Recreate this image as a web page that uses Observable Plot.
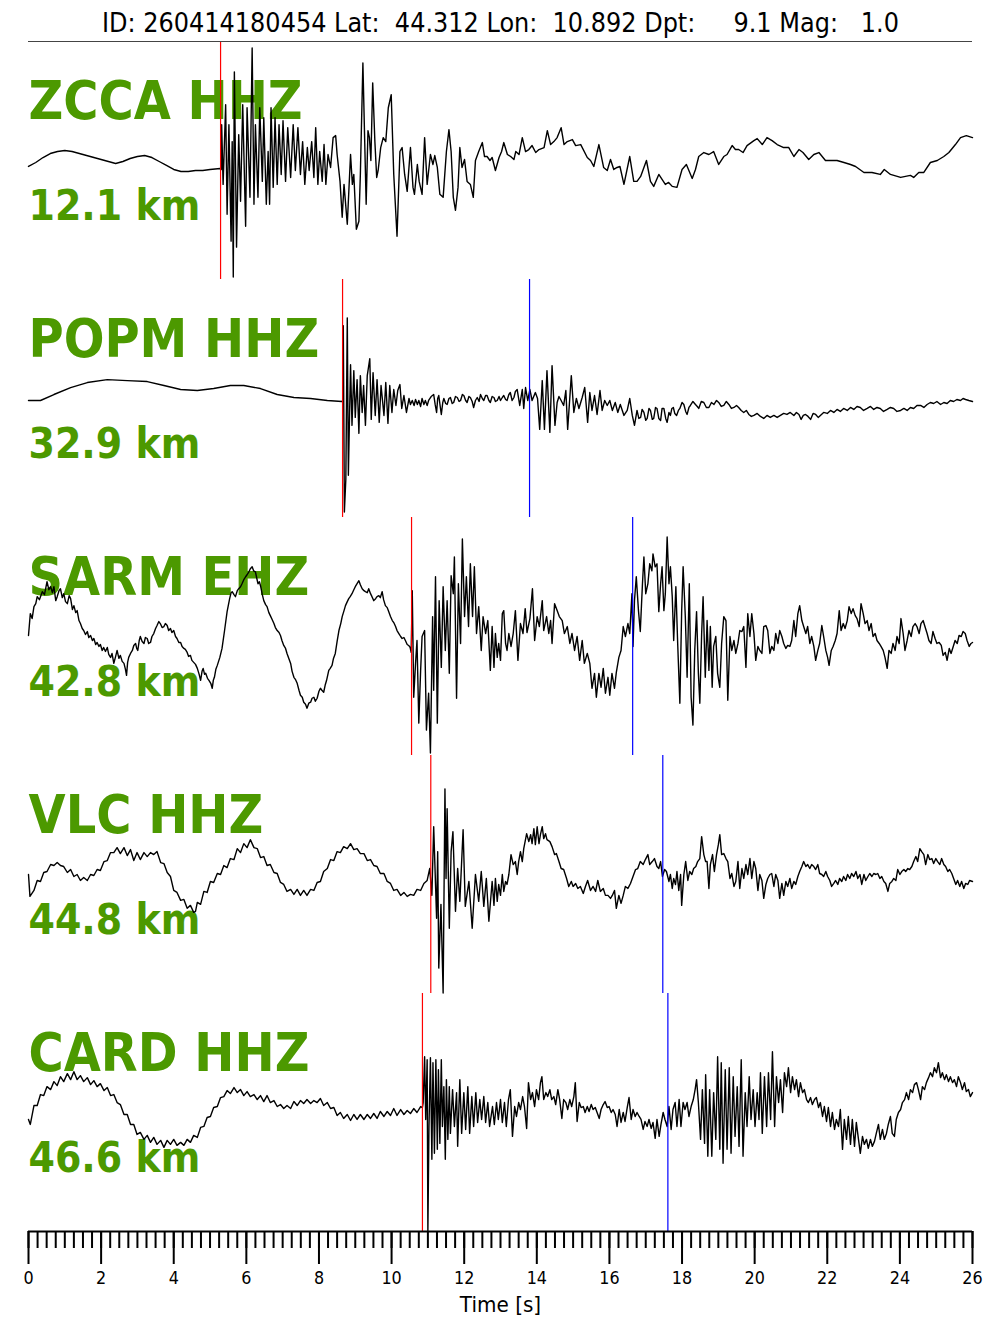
<!DOCTYPE html>
<html><head><meta charset="utf-8">
<script src="https://cdn.jsdelivr.net/npm/d3@7"></script>
<script src="https://cdn.jsdelivr.net/npm/@observablehq/plot@0.6"></script>
<style>body{margin:0;background:#fff;} #chart svg{display:block;}</style>
</head><body><div id="chart"></div>
<script>
const title = "ID: 260414180454 Lat:  44.312 Lon:  10.892 Dpt:     9.1 Mag:   1.0";
const stations = ["ZCCA", "POPM", "SARM", "VLC", "CARD"];
const channels = ["HHZ", "HHZ", "EHZ", "HHZ", "HHZ"];
const distances = [12.1, 32.9, 42.8, 44.8, 46.6];
const pPicks = [5.29, 8.65, 10.55, 11.08, 10.85];
const sPicks = [null, 13.80, 16.64, 17.47, 17.61];
const xTicks = [0, 2, 4, 6, 8, 10, 12, 14, 16, 18, 20, 22, 24, 26];
const xLabel = "Time [s]";
const ampLimit = 119.5; // normalised amplitude limit of each panel

// traces: [time (s), normalised amplitude]
const zcca = [[0,-6],[0.2,-2],[0.4,3],[0.6,7],[0.8,9],[1.0,10],[1.2,9],[1.4,7],[1.6,5],[1.8,3],[2.0,1],[2.2,-1],[2.4,-3],[2.6,-1],[2.8,2],[3.0,4],[3.2,5],[3.4,3],[3.6,-1],[3.8,-5],[4.0,-9],[4.2,-11],[4.4,-11],[4.6,-10],[4.8,-10],[5.0,-9],[5.28,-8],[5.31,-9],
[5.32,36],[5.36,-24],[5.43,56],[5.47,-54],[5.52,36],[5.58,-81],[5.61,19],[5.64,-117],[5.67,89],[5.73,-87],[5.79,26],[5.84,-41],[5.90,56],[5.98,-66],[6.02,53],[6.10,-37],[6.16,113],[6.21,-44],[6.25,36],[6.32,-37],[6.37,53],[6.44,-21],[6.48,43],[6.55,-44],[6.60,9],[6.64,-44],[6.68,53],[6.74,-27],[6.79,43],[6.85,-24],[6.90,36],[6.96,-14],[7.01,40],[7.08,-21],[7.14,33],[7.22,-17],[7.29,36],[7.35,-10],[7.42,33],[7.49,-14],[7.55,19],[7.61,-24],[7.68,13],[7.73,-10],[7.80,19],[7.86,-17],[7.91,33],[7.97,-24],[8.02,9],[8.09,-21],[8.14,16],[8.19,-24],[8.25,6],[8.32,-7],[8.39,23],[8.46,25],[8.50,6],[8.58,-21],[8.64,-57],[8.69,-24],[8.78,-64],[8.87,6],[8.92,-24],[8.96,-14],[9.03,-69],[9.10,-61],[9.14,-14],[9.21,98],[9.26,19],[9.30,-44],[9.35,30],[9.39,23],[9.43,0],[9.48,78],[9.54,19],[9.59,-17],[9.63,-10],[9.70,13],[9.77,23],[9.84,19],[9.91,53],[9.99,66],[10.06,-14],[10.15,-76],[10.23,9],[10.29,13],[10.36,-14],[10.43,-31],[10.52,13],[10.59,-27],[10.63,-34],[10.71,-4],[10.76,-21],[10.84,-34],[10.91,23],[10.98,-24],[11.07,6],[11.14,-4],[11.19,5],[11.26,-7],[11.33,-34],[11.42,-37],[11.51,9],[11.58,31],[11.64,9],[11.70,-37],[11.76,-50],[11.83,-27],[11.88,13],[11.94,-7],[12.01,1],[12.08,-21],[12.17,-24],[12.25,-37],[12.31,0],[12.40,9],[12.50,18],[12.56,4],[12.63,4],[12.71,0],[12.77,3],[12.86,-10],[12.96,3],[13.03,9],[13.09,18],[13.19,6],[13.28,4],[13.37,1],[13.42,9],[13.51,6],[13.60,23],[13.69,9],[13.78,11],[13.87,15],[13.97,8],[14.06,11],[14.20,13],[14.29,30],[14.38,16],[14.47,19],[14.56,23],[14.67,33],[14.75,16],[14.84,19],[14.98,21],[15.07,15],[15.21,16],[15.39,3],[15.48,0],[15.57,-6],[15.71,16],[15.84,-7],[15.94,-10],[16.03,1],[16.12,-9],[16.21,-7],[16.29,-6],[16.40,-24],[16.56,4],[16.67,-21],[16.76,-21],[16.86,-16],[17.02,0],[17.13,-21],[17.22,-26],[17.36,-14],[17.45,-19],[17.54,-24],[17.63,-22],[17.73,-26],[17.86,-27],[18.00,-9],[18.12,-4],[18.28,-18],[18.37,-9],[18.46,4],[18.60,8],[18.74,6],[18.87,9],[19.01,-4],[19.15,4],[19.24,6],[19.38,15],[19.47,11],[19.56,11],[19.68,8],[19.79,15],[19.98,20],[20.07,22],[20.21,16],[20.34,23],[20.48,20],[20.62,16],[20.80,13],[20.94,13],[21.08,4],[21.22,11],[21.33,8],[21.49,1],[21.63,6],[21.77,8],[21.95,0],[22.09,0],[22.27,0],[22.46,-2],[22.64,-4],[22.78,-6],[23.01,-12],[23.23,-12],[23.46,-14],[23.57,-9],[23.74,-14],[24.02,-17],[24.29,-15],[24.38,-17],[24.52,-12],[24.66,-12],[24.84,-2],[25.03,0],[25.21,4],[25.35,8],[25.53,16],[25.67,23],[25.83,25],[26.0,23]];

const popm = [[0,-2],[0.33,-2],[0.70,4],[1.16,11],[1.62,16],[2.17,19],[2.72,18],[3.27,17],[3.73,13],[4.19,9],[4.65,8],[5.10,10],[5.56,13],[5.93,13],[6.39,10],[6.85,4],[7.31,1],[7.77,0],[8.23,-2],[8.63,-3],[8.66,-2],[8.67,73],[8.70,-114],[8.74,-81],[8.78,81],[8.81,-77],[8.87,34],[8.91,-27],[8.96,28],[9.00,-19],[9.05,19],[9.10,-35],[9.14,23],[9.19,-14],[9.23,13],[9.28,-27],[9.33,23],[9.40,40],[9.44,-21],[9.49,26],[9.55,-17],[9.60,19],[9.66,-24],[9.71,13],[9.79,-17],[9.84,16],[9.90,-25],[9.95,13],[10.01,-14],[10.06,9],[10.12,-7],[10.17,8],[10.23,14],[10.28,-10],[10.34,3],[10.41,-14],[10.48,0],[10.52,-6],[10.57,-2],[10.62,-7],[10.66,-1],[10.71,-6],[10.75,-2],[10.80,-8],[10.84,0],[10.89,-6],[10.93,-2],[10.98,-7],[11.02,-2],[11.09,2],[11.16,4],[11.20,-6],[11.24,-14],[11.27,0],[11.30,3],[11.34,-8],[11.37,-16],[11.41,-4],[11.44,0],[11.49,-5],[11.53,-6],[11.58,0],[11.62,1],[11.67,-5],[11.71,-4],[11.76,2],[11.81,1],[11.86,-3],[11.90,-2],[11.95,4],[11.99,3],[12.04,-2],[12.08,-4],[12.13,2],[12.17,1],[12.22,-3],[12.26,-9],[12.31,-2],[12.36,1],[12.41,-3],[12.45,4],[12.50,0],[12.54,-2],[12.59,3],[12.63,3],[12.68,-2],[12.72,-4],[12.77,2],[12.82,1],[12.86,-3],[12.91,-2],[12.96,2],[13.0,-2],[13.05,1],[13.09,3],[13.14,-1],[13.18,-2],[13.23,4],[13.27,6],[13.32,-2],[13.37,1],[13.41,7],[13.46,9],[13.53,-7],[13.60,9],[13.64,-10],[13.69,11],[13.75,-2],[13.81,9],[13.87,-2],[13.96,6],[14.02,0],[14.08,-31],[14.15,18],[14.21,-31],[14.28,28],[14.36,-34],[14.42,33],[14.50,-27],[14.56,-4],[14.61,2],[14.67,-2],[14.74,-7],[14.80,8],[14.85,-31],[14.95,23],[15.02,-14],[15.09,0],[15.16,-10],[15.25,1],[15.32,11],[15.40,-24],[15.46,6],[15.52,-12],[15.59,3],[15.66,-16],[15.74,8],[15.80,-12],[15.87,-2],[15.94,-7],[16.01,-2],[16.08,-12],[16.16,-4],[16.23,-14],[16.30,-6],[16.40,-17],[16.49,-12],[16.56,0],[16.63,-17],[16.69,-27],[16.76,-12],[16.81,-20],[16.86,-19],[16.90,-11],[16.95,-14],[17.00,-22],[17.04,-20],[17.09,-10],[17.13,-12],[17.18,-21],[17.22,-20],[17.27,-9],[17.31,-10],[17.36,-20],[17.41,-22],[17.45,-10],[17.50,-10],[17.55,-20],[17.59,-24],[17.64,-14],[17.68,-17],[17.72,-10],[17.76,-9],[17.80,-15],[17.85,-17],[17.90,-12],[17.94,-10],[18.00,-4],[18.05,-6],[18.10,-13],[18.14,-16],[18.19,-9],[18.23,-7],[18.30,-3],[18.37,-6],[18.42,-8],[18.46,-10],[18.53,-3],[18.60,-4],[18.67,-9],[18.74,-9],[18.81,-4],[18.88,-6],[18.95,-2],[19.01,-4],[19.08,-8],[19.15,-7],[19.22,-3],[19.29,-6],[19.36,-10],[19.43,-9],[19.50,-7],[19.56,-9],[19.63,-12],[19.70,-14],[19.77,-12],[19.84,-16],[19.91,-18],[19.98,-17],[20.07,-15],[20.16,-18],[20.25,-20],[20.34,-17],[20.43,-19],[20.53,-17],[20.62,-19],[20.71,-17],[20.80,-15],[20.89,-16],[20.98,-14],[21.08,-17],[21.15,-14],[21.22,-16],[21.28,-21],[21.34,-17],[21.40,-16],[21.47,-18],[21.54,-21],[21.61,-15],[21.68,-16],[21.75,-19],[21.81,-17],[21.90,-14],[22.0,-15],[22.09,-12],[22.18,-14],[22.27,-11],[22.36,-13],[22.45,-10],[22.55,-12],[22.64,-9],[22.73,-11],[22.82,-8],[22.91,-9],[23.00,-12],[23.10,-10],[23.19,-8],[23.28,-11],[23.37,-9],[23.46,-10],[23.55,-13],[23.65,-11],[23.74,-9],[23.83,-10],[23.92,-13],[24.02,-12],[24.11,-10],[24.20,-12],[24.29,-9],[24.38,-10],[24.47,-7],[24.57,-7],[24.66,-9],[24.75,-6],[24.84,-4],[24.93,-5],[25.02,-3],[25.12,-6],[25.21,-4],[25.30,-5],[25.39,-2],[25.48,-3],[25.57,-1],[25.67,-2],[25.74,0],[25.81,-1],[25.90,-2],[26.0,-3]];

const sarm = [[0,1],[0.05,23],[0.10,18],[0.15,30],[0.20,33],[0.24,40],[0.30,37],[0.38,45],[0.44,42],[0.51,55],[0.56,47],[0.61,50],[0.66,44],[0.70,50],[0.75,36],[0.79,40],[0.84,46],[0.88,48],[0.93,39],[0.97,43],[1.02,35],[1.07,33],[1.12,41],[1.16,38],[1.21,27],[1.25,31],[1.30,24],[1.34,26],[1.39,16],[1.43,13],[1.48,8],[1.52,6],[1.57,2],[1.62,5],[1.66,-1],[1.71,1],[1.76,-4],[1.80,-2],[1.85,-8],[1.89,-6],[1.94,-10],[1.98,-8],[2.03,-14],[2.07,-11],[2.12,-15],[2.17,-11],[2.21,-18],[2.26,-21],[2.30,-17],[2.35,-27],[2.40,-20],[2.44,-14],[2.49,-22],[2.53,-19],[2.58,-25],[2.63,-27],[2.67,-33],[2.70,-39],[2.73,-26],[2.76,-21],[2.81,-17],[2.86,-14],[2.90,-9],[2.95,-7],[2.98,-12],[3.01,-14],[3.05,-4],[3.08,0],[3.13,-5],[3.18,-7],[3.22,-1],[3.27,-2],[3.31,-7],[3.36,-6],[3.40,0],[3.45,3],[3.50,8],[3.54,11],[3.59,15],[3.63,13],[3.68,9],[3.73,10],[3.77,13],[3.82,11],[3.86,6],[3.91,8],[3.95,4],[4.00,6],[4.05,0],[4.09,-2],[4.14,-6],[4.19,-6],[4.23,-10],[4.28,-12],[4.32,-13],[4.37,-16],[4.41,-20],[4.46,-19],[4.50,-24],[4.55,-26],[4.60,-28],[4.65,-32],[4.70,-38],[4.74,-44],[4.78,-35],[4.81,-32],[4.85,-38],[4.88,-37],[4.93,-42],[4.97,-44],[5.02,-47],[5.06,-52],[5.09,-44],[5.12,-41],[5.16,-33],[5.20,-29],[5.27,-21],[5.33,-12],[5.40,6],[5.47,25],[5.54,38],[5.58,44],[5.61,45],[5.66,42],[5.70,40],[5.75,46],[5.79,48],[5.84,50],[5.88,53],[5.93,57],[5.98,60],[6.02,62],[6.07,65],[6.11,68],[6.16,70],[6.20,66],[6.25,65],[6.29,58],[6.32,53],[6.36,55],[6.39,51],[6.44,42],[6.48,36],[6.53,32],[6.57,30],[6.62,24],[6.66,21],[6.71,17],[6.76,13],[6.80,9],[6.85,6],[6.90,4],[6.94,1],[6.98,-4],[7.03,-9],[7.08,-12],[7.12,-17],[7.17,-22],[7.22,-27],[7.26,-35],[7.31,-41],[7.35,-43],[7.40,-47],[7.45,-54],[7.49,-59],[7.54,-61],[7.58,-66],[7.63,-68],[7.67,-72],[7.72,-67],[7.77,-66],[7.81,-62],[7.86,-61],[7.90,-65],[7.95,-62],[8.00,-55],[8.04,-52],[8.08,-54],[8.13,-56],[8.17,-49],[8.21,-44],[8.27,-34],[8.31,-32],[8.36,-29],[8.40,-22],[8.45,-17],[8.50,-5],[8.55,6],[8.60,13],[8.64,20],[8.69,26],[8.73,31],[8.78,35],[8.82,38],[8.86,40],[8.91,43],[8.96,47],[9.00,50],[9.05,53],[9.10,56],[9.14,52],[9.19,48],[9.24,46],[9.28,45],[9.33,44],[9.37,48],[9.42,43],[9.46,40],[9.51,36],[9.56,38],[9.60,40],[9.65,41],[9.69,39],[9.74,45],[9.78,37],[9.83,31],[9.88,29],[9.92,25],[9.97,20],[10.02,16],[10.06,14],[10.11,10],[10.15,6],[10.20,3],[10.25,0],[10.29,-2],[10.34,-1],[10.38,-4],[10.43,-8],[10.47,-9],[10.51,-11],[10.54,-16],
[10.57,46],[10.61,-61],[10.66,-27],[10.70,-4],[10.75,-87],[10.80,-34],[10.84,0],[10.91,6],[10.96,-94],[11.02,-57],[11.07,-117],[11.13,20],[11.16,-54],[11.21,60],[11.26,-87],[11.31,36],[11.37,-31],[11.42,50],[11.48,-14],[11.53,36],[11.59,-37],[11.64,61],[11.70,43],[11.73,80],[11.79,-62],[11.84,53],[11.90,-7],[11.95,98],[12.01,20],[12.06,60],[12.12,10],[12.17,73],[12.23,20],[12.28,70],[12.34,3],[12.40,30],[12.47,-14],[12.52,20],[12.59,3],[12.65,16],[12.72,-34],[12.77,10],[12.82,-31],[12.86,3],[12.91,-21],[12.95,-7],[13.00,-24],[13.05,23],[13.09,26],[13.14,-7],[13.18,-14],[13.23,3],[13.29,-10],[13.35,3],[13.41,26],[13.48,-24],[13.55,13],[13.62,3],[13.68,28],[13.73,4],[13.81,18],[13.88,48],[13.94,-4],[14.01,20],[14.07,10],[14.15,36],[14.19,6],[14.27,20],[14.33,3],[14.38,16],[14.42,-7],[14.49,33],[14.56,26],[14.62,20],[14.70,16],[14.76,3],[14.84,10],[14.91,-7],[14.97,3],[15.04,-14],[15.11,0],[15.18,-24],[15.25,-4],[15.31,-27],[15.39,-17],[15.46,-27],[15.52,-52],[15.59,-37],[15.64,-61],[15.71,-37],[15.77,-51],[15.83,-32],[15.89,-57],[15.96,-41],[16.01,-59],[16.07,-37],[16.14,-52],[16.19,-36],[16.26,-21],[16.32,-14],[16.38,10],[16.44,0],[16.51,13],[16.56,3],[16.62,43],[16.65,-10],[16.69,36],[16.74,60],[16.80,26],[16.85,5],[16.91,53],[16.95,80],[17.00,43],[17.06,53],[17.11,73],[17.17,66],[17.20,83],[17.26,70],[17.31,73],[17.36,25],[17.41,53],[17.45,70],[17.50,26],[17.54,43],[17.59,100],[17.64,53],[17.68,70],[17.73,40],[17.77,-4],[17.83,50],[17.88,-7],[17.94,-67],[17.99,26],[18.03,70],[18.09,20],[18.14,-41],[18.20,53],[18.25,-61],[18.30,-89],[18.35,-14],[18.40,25],[18.45,-37],[18.49,-67],[18.54,3],[18.58,40],[18.64,-41],[18.69,16],[18.74,-34],[18.78,10],[18.83,-51],[18.87,-10],[18.93,0],[18.98,-37],[19.04,-51],[19.09,-7],[19.15,20],[19.21,16],[19.26,-64],[19.32,0],[19.37,-14],[19.43,-4],[19.48,-17],[19.54,-7],[19.59,6],[19.65,5],[19.70,10],[19.76,-31],[19.81,23],[19.87,0],[19.92,23],[19.98,3],[20.03,-24],[20.09,-10],[20.14,-14],[20.20,-17],[20.25,10],[20.31,11],[20.36,6],[20.42,-17],[20.47,-10],[20.53,-14],[20.58,3],[20.64,-7],[20.69,6],[20.75,0],[20.80,-7],[20.86,-12],[20.91,-9],[20.97,-10],[21.02,-4],[21.08,16],[21.13,0],[21.19,23],[21.24,31],[21.30,16],[21.35,10],[21.41,3],[21.46,10],[21.52,-7],[21.57,0],[21.63,-10],[21.68,-24],[21.74,-14],[21.79,-7],[21.85,11],[21.90,0],[21.96,-14],[22.01,-21],[22.05,-29],[22.11,-14],[22.16,-10],[22.22,-4],[22.27,3],[22.33,26],[22.38,6],[22.44,13],[22.49,8],[22.55,16],[22.60,30],[22.66,23],[22.71,28],[22.77,21],[22.82,18],[22.88,10],[22.93,33],[22.99,23],[23.04,13],[23.10,16],[23.15,6],[23.21,13],[23.26,0],[23.32,3],[23.37,-4],[23.43,-7],[23.48,-10],[23.54,-14],[23.59,-21],[23.65,-32],[23.70,-14],[23.76,-17],[23.81,-7],[23.87,-14],[23.92,0],[23.98,-7],[24.03,18],[24.09,3],[24.14,-14],[24.20,-4],[24.25,6],[24.31,0],[24.36,10],[24.42,13],[24.47,10],[24.53,3],[24.58,13],[24.64,16],[24.69,10],[24.75,3],[24.80,-4],[24.86,-7],[24.91,5],[24.97,-2],[25.02,-7],[25.08,-6],[25.14,-9],[25.19,-19],[25.25,-16],[25.30,-24],[25.36,-12],[25.41,-17],[25.47,-10],[25.52,-4],[25.58,-7],[25.63,1],[25.69,0],[25.74,5],[25.80,3],[25.85,-4],[25.91,-10],[25.96,-7],[26.00,-6]];

const vlc = [[0,0],[0.04,-22],[0.15,-16],[0.24,-6],[0.33,-7],[0.42,2],[0.51,3],[0.61,10],[0.70,9],[0.79,12],[0.88,9],[0.97,8],[1.07,2],[1.16,5],[1.25,-2],[1.34,0],[1.43,-6],[1.52,-3],[1.62,-6],[1.71,0],[1.80,-1],[1.89,5],[1.98,4],[2.08,13],[2.17,14],[2.26,22],[2.35,22],[2.44,27],[2.53,21],[2.63,27],[2.72,19],[2.81,25],[2.90,14],[2.99,22],[3.08,15],[3.18,22],[3.27,18],[3.36,22],[3.45,20],[3.54,23],[3.64,12],[3.73,11],[3.82,2],[3.91,-2],[4.00,-16],[4.09,-18],[4.19,-26],[4.28,-25],[4.37,-34],[4.46,-31],[4.55,-38],[4.60,-37],[4.65,-28],[4.74,-30],[4.83,-17],[4.92,-18],[5.01,-7],[5.10,-8],[5.20,1],[5.29,0],[5.38,9],[5.47,7],[5.56,16],[5.66,15],[5.75,26],[5.84,22],[5.93,31],[6.02,27],[6.11,35],[6.21,27],[6.30,26],[6.39,17],[6.48,18],[6.57,9],[6.66,10],[6.76,2],[6.85,1],[6.94,-8],[7.03,-10],[7.12,-17],[7.22,-15],[7.31,-20],[7.40,-15],[7.49,-21],[7.58,-16],[7.67,-21],[7.77,-15],[7.86,-16],[7.95,-8],[8.04,-7],[8.13,3],[8.23,6],[8.32,15],[8.41,14],[8.50,23],[8.59,22],[8.68,28],[8.78,26],[8.87,31],[8.96,25],[9.05,26],[9.14,21],[9.24,21],[9.33,14],[9.42,15],[9.51,9],[9.60,8],[9.69,1],[9.79,1],[9.88,-7],[9.97,-9],[10.06,-16],[10.15,-15],[10.25,-21],[10.34,-18],[10.43,-22],[10.52,-20],[10.61,-21],[10.70,-15],[10.80,-16],[10.89,-9],[10.98,-6],[11.05,6],
[11.11,-21],[11.16,48],[11.24,-44],[11.27,23],[11.30,-94],[11.36,-30],[11.42,-119],[11.47,86],[11.50,-4],[11.53,66],[11.59,-54],[11.64,23],[11.69,43],[11.76,-37],[11.82,6],[11.88,-27],[11.97,45],[12.03,-32],[12.13,-7],[12.22,-54],[12.31,0],[12.40,-27],[12.47,3],[12.54,-32],[12.61,-4],[12.68,-47],[12.77,-7],[12.82,-31],[12.86,-4],[12.91,-27],[12.95,-10],[13.00,-21],[13.05,0],[13.09,-17],[13.14,-7],[13.18,-10],[13.23,0],[13.29,20],[13.35,10],[13.41,13],[13.46,0],[13.50,13],[13.55,23],[13.60,13],[13.64,26],[13.72,41],[13.78,33],[13.83,40],[13.87,31],[13.92,46],[13.96,30],[14.01,48],[14.06,31],[14.10,40],[14.15,48],[14.19,36],[14.24,41],[14.28,35],[14.36,33],[14.42,28],[14.49,20],[14.54,21],[14.61,13],[14.67,6],[14.74,5],[14.82,-4],[14.88,-12],[14.95,-7],[15.00,-12],[15.07,-9],[15.13,-14],[15.20,-12],[15.28,-19],[15.34,-12],[15.40,-6],[15.48,-16],[15.55,-12],[15.62,-17],[15.68,-6],[15.75,-17],[15.83,-14],[15.89,-21],[15.96,-21],[16.03,-24],[16.08,-21],[16.14,-16],[16.19,-34],[16.26,-21],[16.32,-29],[16.38,-21],[16.44,-12],[16.51,-14],[16.58,-9],[16.65,-2],[16.72,5],[16.78,6],[16.85,13],[16.93,10],[16.99,15],[17.06,20],[17.11,10],[17.18,13],[17.24,16],[17.31,8],[17.36,6],[17.41,13],[17.46,-2],[17.52,5],[17.57,3],[17.64,-7],[17.68,0],[17.73,-14],[17.77,-4],[17.82,-10],[17.86,3],[17.91,-16],[17.96,0],[17.99,-31],[18.05,0],[18.10,13],[18.16,-6],[18.21,3],[18.27,0],[18.32,6],[18.38,8],[18.43,13],[18.49,16],[18.54,38],[18.60,20],[18.65,13],[18.69,13],[18.74,-14],[18.78,10],[18.84,20],[18.89,3],[18.95,20],[19.00,30],[19.04,40],[19.09,20],[19.15,21],[19.21,16],[19.26,13],[19.32,-4],[19.37,1],[19.43,-12],[19.48,-7],[19.54,13],[19.59,-14],[19.65,6],[19.70,-4],[19.76,10],[19.81,0],[19.87,16],[19.92,-4],[19.98,13],[20.03,6],[20.09,-16],[20.14,0],[20.20,-6],[20.25,-24],[20.31,-10],[20.36,-4],[20.42,0],[20.47,1],[20.53,-12],[20.58,0],[20.64,-6],[20.69,-24],[20.75,-9],[20.80,-21],[20.86,-7],[20.91,-12],[20.97,-4],[21.02,-14],[21.08,-7],[21.13,-10],[21.19,-2],[21.24,3],[21.30,8],[21.35,13],[21.41,8],[21.46,10],[21.52,6],[21.57,10],[21.63,8],[21.68,5],[21.74,10],[21.79,1],[21.85,0],[21.90,-2],[21.96,3],[22.01,-2],[22.07,-6],[22.12,-12],[22.18,-9],[22.23,-6],[22.29,-10],[22.34,-4],[22.40,-7],[22.45,-2],[22.51,-6],[22.56,0],[22.62,-4],[22.67,1],[22.73,-2],[22.79,3],[22.84,-4],[22.90,0],[22.95,-10],[23.01,0],[23.06,-6],[23.12,-2],[23.17,1],[23.23,-2],[23.28,1],[23.34,0],[23.39,1],[23.45,-4],[23.50,-2],[23.56,-7],[23.61,-9],[23.67,-17],[23.72,-9],[23.78,-7],[23.83,-4],[23.89,-6],[23.94,5],[24.00,0],[24.05,3],[24.11,5],[24.16,3],[24.22,6],[24.27,5],[24.33,8],[24.38,13],[24.44,18],[24.49,13],[24.55,26],[24.60,23],[24.66,20],[24.71,10],[24.77,20],[24.82,15],[24.88,16],[24.93,11],[24.99,16],[25.04,13],[25.10,10],[25.15,16],[25.21,10],[25.26,8],[25.32,3],[25.37,5],[25.43,1],[25.48,-4],[25.54,-10],[25.59,-6],[25.65,-12],[25.70,-7],[25.76,-14],[25.81,-9],[25.87,-10],[25.92,-6],[26.00,-7]];

const card = [[0,-7],[0.05,-12],[0.15,7],[0.24,7],[0.33,18],[0.42,17],[0.51,26],[0.61,23],[0.70,31],[0.79,27],[0.88,36],[0.97,31],[1.07,39],[1.16,33],[1.25,41],[1.34,33],[1.43,37],[1.52,31],[1.62,35],[1.71,28],[1.80,32],[1.89,26],[1.98,29],[2.08,22],[2.17,25],[2.26,17],[2.35,18],[2.44,10],[2.53,8],[2.63,-2],[2.72,-2],[2.81,-12],[2.90,-12],[2.99,-22],[3.08,-20],[3.18,-27],[3.27,-23],[3.36,-30],[3.45,-25],[3.54,-32],[3.64,-28],[3.73,-35],[3.82,-28],[3.91,-32],[4.00,-27],[4.09,-33],[4.19,-30],[4.28,-33],[4.37,-27],[4.46,-30],[4.55,-23],[4.65,-25],[4.74,-15],[4.83,-14],[4.92,-5],[5.01,-4],[5.10,5],[5.20,6],[5.29,15],[5.38,16],[5.47,22],[5.56,19],[5.66,25],[5.75,20],[5.84,23],[5.93,17],[6.02,21],[6.11,16],[6.21,18],[6.30,13],[6.39,17],[6.48,11],[6.57,17],[6.66,10],[6.76,12],[6.85,6],[6.94,8],[7.03,4],[7.12,7],[7.22,4],[7.31,11],[7.40,7],[7.49,12],[7.58,9],[7.67,13],[7.77,9],[7.86,12],[7.95,10],[8.04,14],[8.13,7],[8.23,10],[8.32,4],[8.41,5],[8.50,-3],[8.59,0],[8.68,-6],[8.78,-2],[8.87,-8],[8.96,-2],[9.05,-7],[9.14,-2],[9.24,-7],[9.33,-2],[9.42,-6],[9.51,-1],[9.60,-6],[9.69,1],[9.79,-4],[9.88,1],[9.97,-3],[10.06,4],[10.15,-3],[10.25,3],[10.34,-2],[10.43,2],[10.52,-1],[10.61,4],[10.70,0],[10.80,6],[10.85,5],
[10.87,10],[10.91,56],[10.94,-7],[10.98,53],[11.00,-119],[11.03,-14],[11.07,55],[11.11,-47],[11.14,50],[11.18,-41],[11.22,53],[11.26,-37],[11.29,43],[11.33,-31],[11.37,53],[11.40,-14],[11.44,26],[11.48,-47],[11.51,33],[11.55,-27],[11.59,26],[11.62,-21],[11.68,23],[11.73,-14],[11.79,20],[11.82,-34],[11.88,33],[11.93,-21],[11.99,20],[12.04,-17],[12.10,26],[12.15,-21],[12.21,16],[12.26,-14],[12.32,20],[12.37,-10],[12.43,13],[12.48,-7],[12.54,16],[12.59,-10],[12.65,10],[12.70,-14],[12.78,6],[12.83,-12],[12.89,10],[12.94,-7],[13.00,13],[13.05,-10],[13.11,10],[13.16,-14],[13.22,13],[13.27,23],[13.33,-24],[13.39,6],[13.44,-4],[13.50,10],[13.55,3],[13.61,16],[13.66,6],[13.72,-16],[13.77,30],[13.83,13],[13.88,20],[13.94,6],[13.99,23],[14.05,13],[14.10,30],[14.14,36],[14.19,13],[14.25,20],[14.30,16],[14.36,23],[14.41,13],[14.47,16],[14.52,8],[14.58,23],[14.63,13],[14.69,-6],[14.74,13],[14.80,10],[14.85,3],[14.91,13],[14.96,6],[15.02,16],[15.06,30],[15.11,-9],[15.17,10],[15.22,5],[15.28,6],[15.33,0],[15.39,6],[15.44,1],[15.50,8],[15.55,3],[15.61,5],[15.66,0],[15.72,-6],[15.77,3],[15.83,8],[15.88,11],[15.94,5],[15.99,6],[16.05,0],[16.10,3],[16.16,-2],[16.21,-14],[16.27,3],[16.32,-10],[16.38,0],[16.43,-9],[16.49,5],[16.54,15],[16.60,-7],[16.65,3],[16.71,-4],[16.76,0],[16.82,-4],[16.87,-7],[16.93,-17],[16.98,-9],[17.04,-14],[17.09,-7],[17.15,-16],[17.20,-10],[17.26,-26],[17.31,-7],[17.37,-24],[17.42,-12],[17.48,0],[17.53,-7],[17.59,-14],[17.64,6],[17.70,-17],[17.75,3],[17.81,10],[17.86,-14],[17.92,13],[17.97,-14],[18.03,10],[18.08,3],[18.14,10],[18.19,-4],[18.25,6],[18.31,13],[18.36,23],[18.40,33],[18.45,10],[18.51,-27],[18.56,23],[18.62,-31],[18.65,38],[18.71,-44],[18.76,23],[18.82,-44],[18.87,20],[18.93,-27],[18.98,56],[19.04,-37],[19.08,50],[19.13,-51],[19.19,43],[19.24,-37],[19.30,45],[19.35,-41],[19.41,36],[19.46,-24],[19.52,26],[19.57,-34],[19.63,53],[19.68,-44],[19.74,20],[19.79,-14],[19.85,36],[19.90,-7],[19.96,23],[20.01,-14],[20.07,20],[20.12,-7],[20.16,40],[20.21,-21],[20.27,36],[20.33,-14],[20.38,40],[20.44,-7],[20.49,61],[20.55,-14],[20.60,36],[20.66,10],[20.71,33],[20.77,0],[20.82,40],[20.88,26],[20.93,45],[20.99,20],[21.04,36],[21.10,23],[21.15,33],[21.21,16],[21.26,30],[21.32,20],[21.37,23],[21.43,13],[21.48,10],[21.54,15],[21.59,8],[21.65,13],[21.70,15],[21.76,5],[21.81,10],[21.87,-4],[21.92,6],[21.98,-9],[22.03,5],[22.09,-14],[22.14,0],[22.20,-17],[22.25,-7],[22.31,-14],[22.36,3],[22.42,-37],[22.47,-7],[22.53,-27],[22.58,-4],[22.64,-32],[22.69,-7],[22.75,-34],[22.80,-10],[22.86,-27],[22.91,-41],[22.97,-24],[23.02,-32],[23.08,-27],[23.13,-36],[23.19,-27],[23.24,-34],[23.30,-29],[23.35,-21],[23.41,-12],[23.46,-27],[23.52,-17],[23.57,-27],[23.63,-21],[23.68,-12],[23.74,-4],[23.79,-21],[23.85,-24],[23.90,-7],[23.96,0],[24.02,3],[24.07,10],[24.13,13],[24.18,20],[24.24,13],[24.29,23],[24.35,20],[24.40,28],[24.46,30],[24.51,23],[24.57,13],[24.62,26],[24.68,23],[24.73,30],[24.79,35],[24.84,40],[24.90,36],[24.95,45],[25.01,40],[25.06,50],[25.12,35],[25.17,40],[25.23,33],[25.28,38],[25.34,31],[25.39,36],[25.45,30],[25.50,33],[25.56,26],[25.61,36],[25.67,30],[25.72,23],[25.78,30],[25.83,21],[25.89,23],[25.94,16],[26.00,20]];

const traces = {ZCCA: zcca, POPM: popm, SARM: sarm, VLC: vlc, CARD: card};
const green = "#4c9900";

const points = stations.flatMap(s => traces[s].map(([t, v]) => ({s, t, v})));
const labels = stations.map((s, i) => ({s, name: `${s} ${channels[i]}`, dist: `${distances[i].toFixed(1)} km`}));
const pRows = stations.map((s, i) => ({s, t: pPicks[i]}));
const sRows = stations.map((s, i) => ({s, t: sPicks[i]})).filter(d => d.t != null);
const minorTicks = d3.range(0, 26.001, 0.25);

const plot = Plot.plot({
  width: 1000, height: 1333,
  marginTop: 39, marginBottom: 100, marginLeft: 28, marginRight: 28,
  style: {fontFamily: "DejaVu Sans", background: "white", color: "black", overflow: "visible"},
  x: {domain: [0, 26]},
  y: {domain: [-ampLimit, ampLimit], axis: null},
  fy: {domain: stations, padding: 0, axis: null},
  marks: [
    Plot.text(labels, {fy: "s", text: "name", frameAnchor: "top-left", dy: 77.5, lineAnchor: "bottom", textAnchor: "start", fontSize: 48, fontWeight: "bold", fill: green}),
    Plot.text(labels, {fy: "s", text: "dist", frameAnchor: "top-left", dy: 178.5, lineAnchor: "bottom", textAnchor: "start", fontSize: 38, fontWeight: "bold", fill: green}),
    Plot.line(points, {x: "t", y: "v", fy: "s", z: "s", stroke: "black", strokeWidth: 1.4}),
    Plot.ruleX(pRows, {x: "t", fy: "s", stroke: "red", strokeWidth: 1.2}),
    Plot.ruleX(sRows, {x: "t", fy: "s", stroke: "blue", strokeWidth: 1.2}),
    Plot.ruleY([{s: "ZCCA"}], {y: ampLimit, fy: "s", stroke: "#444", strokeWidth: 1.2}),
    Plot.ruleY([{s: "CARD"}], {y: -ampLimit, fy: "s", stroke: "black", strokeWidth: 2}),
    Plot.text([{s: "ZCCA", label: title.replace(/ /g, "\u00a0")}], {fy: "s", text: "label", frameAnchor: "top", dy: -10, lineAnchor: "bottom", fontSize: 24, fill: "black"}),
    Plot.text([{s: "CARD", label: xLabel}], {fy: "s", text: "label", frameAnchor: "bottom", dy: 80, lineAnchor: "bottom", fontSize: 20, fill: "black"}),
    Plot.axisX(minorTicks, {anchor: "bottom", tickSize: 17, tickFormat: () => "", strokeWidth: 2, label: null}),
    Plot.axisX(xTicks, {anchor: "bottom", tickSize: 33, tickPadding: 7, fontSize: 16, strokeWidth: 2, label: null})
  ]
});

// glyphs in the reference are ~10% taller than wide
d3.select(plot).selectAll("text").each(function() {
  const x = parseFloat(this.getAttribute("x")) || 0;
  const y = parseFloat(this.getAttribute("y")) || 0;
  const tr = this.getAttribute("transform") || "";
  this.setAttribute("transform", `${tr} translate(${x},${y}) scale(1,1.1) translate(${-x},${-y})`);
});

document.getElementById("chart").appendChild(plot);
</script>
</body></html>
